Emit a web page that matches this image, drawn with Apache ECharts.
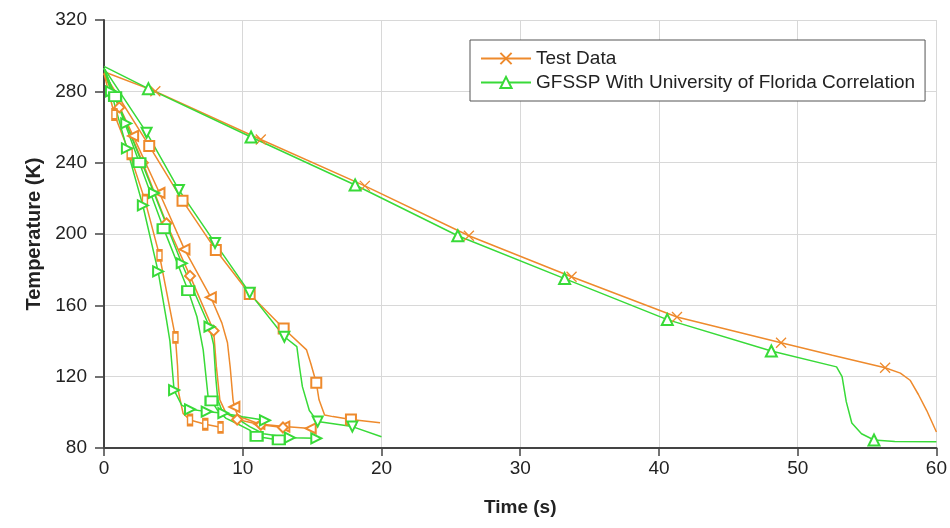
<!DOCTYPE html>
<html>
<head>
<meta charset="utf-8">
<script src="https://cdn.jsdelivr.net/npm/echarts@6/dist/echarts.min.js"></script>
<style>
html, body { margin: 0; padding: 0; background: #fff; }
#main { width: 950px; height: 528px; }
</style>
</head>
<body>
<div id="main"></div>
<script>
// 数据：[时间 s, 温度 K]，marks 为带标记点的下标
var testCross = [[0,291],[3.7,280],[11.3,253],[18.8,227],[26.3,199],[33.7,176],[41.3,153.5],[48.8,139],[52.5,132],[56.3,125],[57.4,122],[58.1,118],[58.7,110],[59.3,101],[60,89]];
var testCrossMarks = [1,2,3,4,5,6,7,9];

var testSquare = [[0,290],[3.26,249.4],[5.66,218.7],[8.06,191],[10.5,166.4],[12.95,147],[14.6,135],[14.9,127.5],[15.3,116.6],[15.5,107],[15.9,98.5],[16.5,97.6],[17.8,96],[19.9,94.2]];
var testSquareMarks = [1,2,3,4,5,8,12];

var testLeft = [[0,290],[2.1,255],[4.0,223],[5.8,191.4],[7.7,164.5],[8.5,150],[8.9,139],[9.1,125],[9.3,107],[9.4,103],[9.6,99],[10,97],[11.2,93.5],[13.0,92],[14.9,91]];
var testLeftMarks = [1,2,3,4,9,12,13,14];

var testDiamond = [[0,290],[1.1,271],[2.8,240],[4.5,206],[6.2,176.5],[7.9,145.8],[8.1,125.6],[8.35,107],[8.8,99.4],[9.6,96],[11.3,93],[12.9,91.5]];
var testDiamondMarks = [1,2,3,4,5,9,10,11];

var testBar = [[0,290],[0.75,267],[1.85,245],[2.95,219],[4.0,188],[5.15,142],[5.3,126],[5.38,111],[5.7,99.4],[6.2,95.7],[7.3,93.3],[8.4,91.6]];
var testBarMarks = [1,2,3,4,5,9,10,11];

var gfsspUp = [[0,294],[3.2,281.5],[10.6,254.4],[18.1,227.5],[25.5,199],[33.2,175],[40.6,152],[48.1,134.4],[52.8,125.5],[53.2,120],[53.5,106],[53.9,94],[54.6,88],[55.5,84.5],[57,83.6],[60,83.5]];
var gfsspUpMarks = [1,2,3,4,5,6,7,13];

var gfsspDown = [[0,293],[3.07,256.8],[5.4,224.7],[8.0,195],[10.5,167],[13.0,142.4],[13.9,136.8],[14.1,125],[14.3,114.4],[14.8,101],[15.4,94.8],[17.9,92],[20,86.3]];
var gfsspDownMarks = [1,2,3,4,5,10,11];

var gfsspLeft = [[0,293],[0.5,280],[1.65,248],[2.8,216],[3.9,179],[4.5,152],[4.75,140],[5.05,112.5],[5.6,104],[6.2,101.7],[7.4,100.4],[8.6,99.5],[10,97.5],[11.6,95.5]];
var gfsspLeftMarks = [1,2,3,4,7,9,10,11,13];

var gfsspSquare = [[0,293],[0.8,277],[2.55,240],[4.3,203],[6.07,168.2],[6.7,153.6],[7.15,135],[7.5,109],[7.75,106.4],[8.2,101],[8.8,96.6],[9.5,94],[10.5,90],[11.0,86.5],[12.6,84.5],[12.9,84.5]];
var gfsspSquareMarks = [1,2,3,4,8,13,14];

var gfsspRight = [[0,293],[1.6,262],[3.6,223],[5.6,183.6],[7.6,148],[7.9,138],[8.05,120],[8.2,107],[8.5,101],[9.6,96.5],[10.5,92],[11.5,88],[13.4,85.8],[15.3,85.4]];
var gfsspRightMarks = [1,2,3,4,12,13];

var ORANGE = '#EE8A2C';
var GREEN = '#38DA38';
var TEST_NAME = 'Test Data';
var GFSSP_NAME = 'GFSSP With University of Florida Correlation';
var FONT = "'Liberation Sans', Arial, sans-serif";
var CROSS = 'path://M0,0L10,10M10,0L0,10';

function makeLine(name, color, pts, marks, symbol, size, rotate) {
    return {
        name: name,
        type: 'line',
        symbol: symbol,
        symbolSize: size,
        symbolRotate: rotate || 0,
        showAllSymbol: true,
        animation: false,
        lineStyle: { color: color, width: 1.5 },
        itemStyle: { color: color, borderColor: color, borderWidth: 1.3 },
        emphasis: { disabled: true },
        data: pts.map(function (p, i) {
            return marks.indexOf(i) >= 0 ? { value: p } : { value: p, symbol: 'none' };
        })
    };
}

var myChart = echarts.init(document.getElementById('main'));

var option = {
    backgroundColor: '#fff',
    animation: false,
    grid: { left: 104, right: 12, top: 20, bottom: 80 },
    legend: {
        data: [TEST_NAME, GFSSP_NAME],
        orient: 'vertical',
        left: 470,
        top: 40,
        padding: [9, 10, 9, 10],
        itemGap: 5,
        itemWidth: 50,
        itemHeight: 14,
        borderColor: '#555',
        borderWidth: 1,
        backgroundColor: '#fff',
        textStyle: { fontFamily: FONT, fontSize: 19, color: '#222' }
    },
    xAxis: {
        type: 'value',
        min: 0, max: 60, interval: 10,
        name: 'Time (s)',
        nameLocation: 'middle',
        nameGap: 50,
        nameTextStyle: { fontFamily: FONT, fontSize: 19, fontWeight: 'bold', color: '#222' },
        axisLine: { lineStyle: { color: '#444', width: 2 } },
        axisTick: { show: true, length: 8, lineStyle: { color: '#444', width: 1.5 } },
        axisLabel: { margin: 11, fontFamily: FONT, fontSize: 19, color: '#222' },
        splitLine: { show: true, lineStyle: { color: '#d8d8d8', width: 1 } }
    },
    yAxis: {
        type: 'value',
        min: 80, max: 320, interval: 40,
        name: 'Temperature (K)',
        nameLocation: 'middle',
        nameGap: 49,
        nameTextStyle: { fontFamily: FONT, fontSize: 20, fontWeight: 'bold', color: '#222' },
        axisLine: { show: true, lineStyle: { color: '#444', width: 2 } },
        axisTick: { show: true, length: 9, lineStyle: { color: '#444', width: 1.5 } },
        axisLabel: { margin: 17, fontFamily: FONT, fontSize: 19, color: '#222' },
        splitLine: { show: true, lineStyle: { color: '#d8d8d8', width: 1 } }
    },
    series: [
        makeLine(TEST_NAME, ORANGE, testCross, testCrossMarks, CROSS, 10),
        makeLine(TEST_NAME, ORANGE, testSquare, testSquareMarks, 'emptyRect', 10),
        makeLine(TEST_NAME, ORANGE, testLeft, testLeftMarks, 'emptyTriangle', 10, 90),
        makeLine(TEST_NAME, ORANGE, testDiamond, testDiamondMarks, 'emptyDiamond', 10),
        makeLine(TEST_NAME, ORANGE, testBar, testBarMarks, 'emptyRect', [5, 10]),
        makeLine(GFSSP_NAME, GREEN, gfsspUp, gfsspUpMarks, 'emptyTriangle', 11),
        makeLine(GFSSP_NAME, GREEN, gfsspDown, gfsspDownMarks, 'emptyTriangle', 10, 180),
        makeLine(GFSSP_NAME, GREEN, gfsspLeft, gfsspLeftMarks, 'emptyTriangle', 10, -90),
        makeLine(GFSSP_NAME, GREEN, gfsspSquare, gfsspSquareMarks, 'emptyRect', [12, 9]),
        makeLine(GFSSP_NAME, GREEN, gfsspRight, gfsspRightMarks, 'emptyTriangle', 10, -90)
    ]
};

myChart.setOption(option);
</script>
</body>
</html>
